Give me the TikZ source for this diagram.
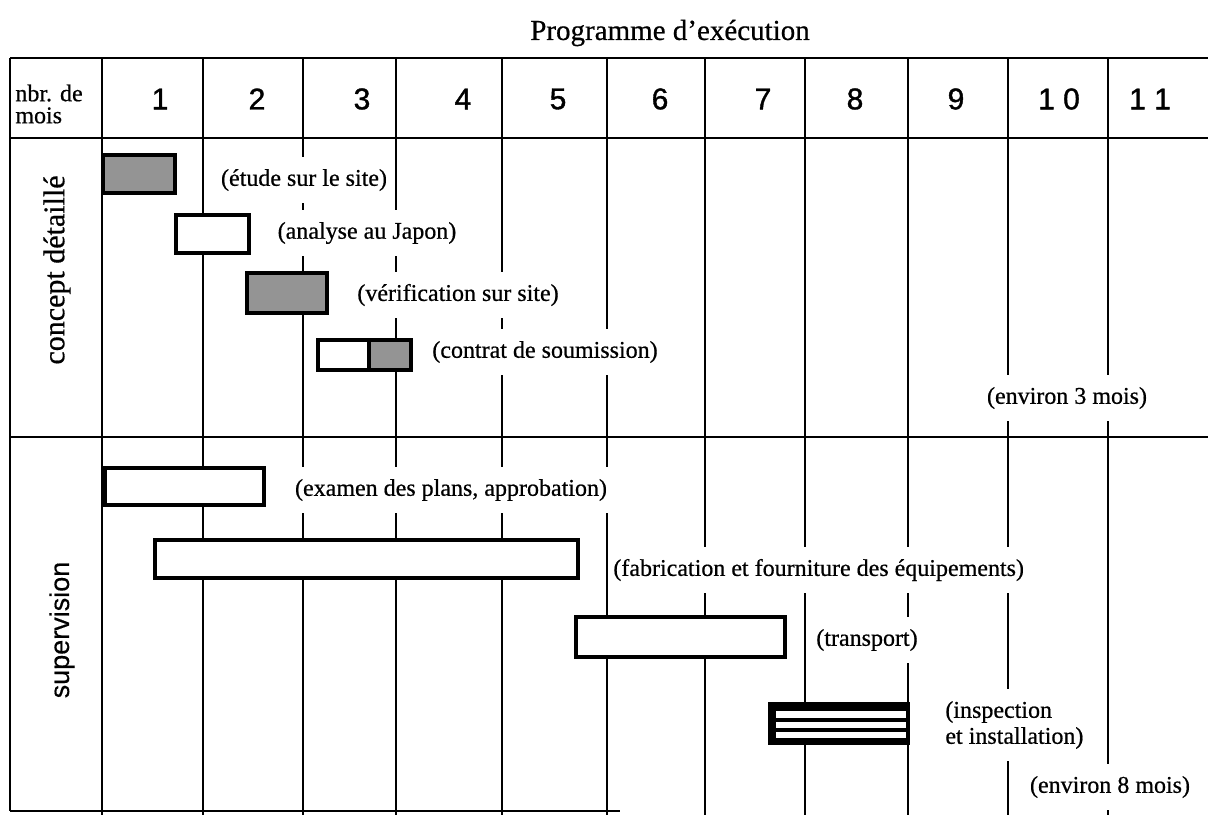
\documentclass[tikz,border=0pt]{standalone}
\usepackage{fontspec}
\setmainfont[FakeBold=0.6]{Liberation Serif}
\newfontfamily\numfont[FakeBold=1.2]{Liberation Sans}
\newfontfamily\supfont[FakeBold=0.4]{Liberation Sans}
\begin{document}
\begin{tikzpicture}[x=0.5pt,y=-0.5pt,
  grid/.style={line width=1.4pt},
  lbl/.style={fill=white, inner xsep=2pt, inner ysep=6pt, font=\rmfamily\fontsize{12}{13}\selectfont},
  barw/.style={draw=black, line width=1.8pt, fill=white},
  barg/.style={draw=black, line width=1.8pt, fill=black!42},
  num/.style={font=\numfont\fontsize{15}{16}\selectfont}]
\useasboundingbox (0,0) rectangle (1208,815);
% grid
\foreach \x in {102,203,303,396,502,607,705,805,908,1008,1108}
  \draw[grid] (\x,58) -- (\x,815);
\draw[grid] (10,58) -- (10,811);
\draw[grid] (10,58) -- (1208,58);
\draw[grid] (10,138) -- (1208,138);
\draw[grid] (10,437) -- (1208,437);
\draw[grid] (10,811) -- (620,811);
% title and header
\node[font=\rmfamily\fontsize{14.5}{16}\selectfont] (title) at (670,33) {Programme d'exécution};
\node[anchor=west, align=left, inner sep=0pt, font=\rmfamily\fontsize{12}{11}\selectfont] (nbr) at (15,104) {nbr. de\\mois};
\node[num] (m1) at (160,99) {1};
\node[num] (m2) at (257,99) {2};
\node[num] (m3) at (362,99) {3};
\node[num] (m4) at (463,99) {4};
\node[num] (m5) at (558,99) {5};
\node[num] (m6) at (660,99) {6};
\node[num] (m7) at (763,99) {7};
\node[num] (m8) at (855,99) {8};
\node[num] (m9) at (956,99) {9};
\node[num] (m10) at (1059,99) {1 0};
\node[num] (m11) at (1150,99) {1 1};
% row titles
\node[rotate=90, font=\rmfamily\fontsize{15}{16}\selectfont] (concept) at (57,270) {concept détaillé};
\node[rotate=90, font=\supfont\fontsize{13.5}{15}\selectfont] (sup) at (62,630) {supervision};
% labels
\node[lbl] (letude) at (304,180) {(étude sur le site)};
\node[lbl] (lanalyse) at (367,233) {(analyse au Japon)};
\node[lbl] (lverif) at (458,295) {(vérification sur site)};
\node[lbl] (lcontrat) at (545,352) {(contrat de soumission)};
\node[lbl] (lenv3) at (1067,398) {(environ 3 mois)};
\node[lbl] (lexamen) at (451,490) {(examen des plans, approbation)};
\node[lbl, anchor=west] (lfab) at (609,570) {(fabrication et fourniture des équipements)};
\node[lbl] (ltrans) at (867,640) {(transport)};
\node[lbl, anchor=west, align=left] (linsp) at (941,725) {(inspection\\et installation)};
\node[lbl] (lenv8) at (1110,787) {(environ 8 mois)};
% bars
\draw[barg] (103,155) rectangle (175,193);
\draw[barw] (176,215) rectangle (249,253);
\draw[barg] (247,273) rectangle (327,313);
\draw[barw] (318,340) rectangle (369,370);
\draw[barg] (369,340) rectangle (411,370);
\draw[barw] (105,468) rectangle (264,505);
\draw[barw] (155,540) rectangle (578,578);
\draw[barw] (576,617) rectangle (785,657);
\draw[line width=1.8pt, fill=black] (770,704) rectangle (908,743);
\fill[white] (776,711) rectangle (906,718);
\fill[white] (776,722) rectangle (906,728);
\fill[white] (776,732) rectangle (906,738);
\end{tikzpicture}
\end{document}
